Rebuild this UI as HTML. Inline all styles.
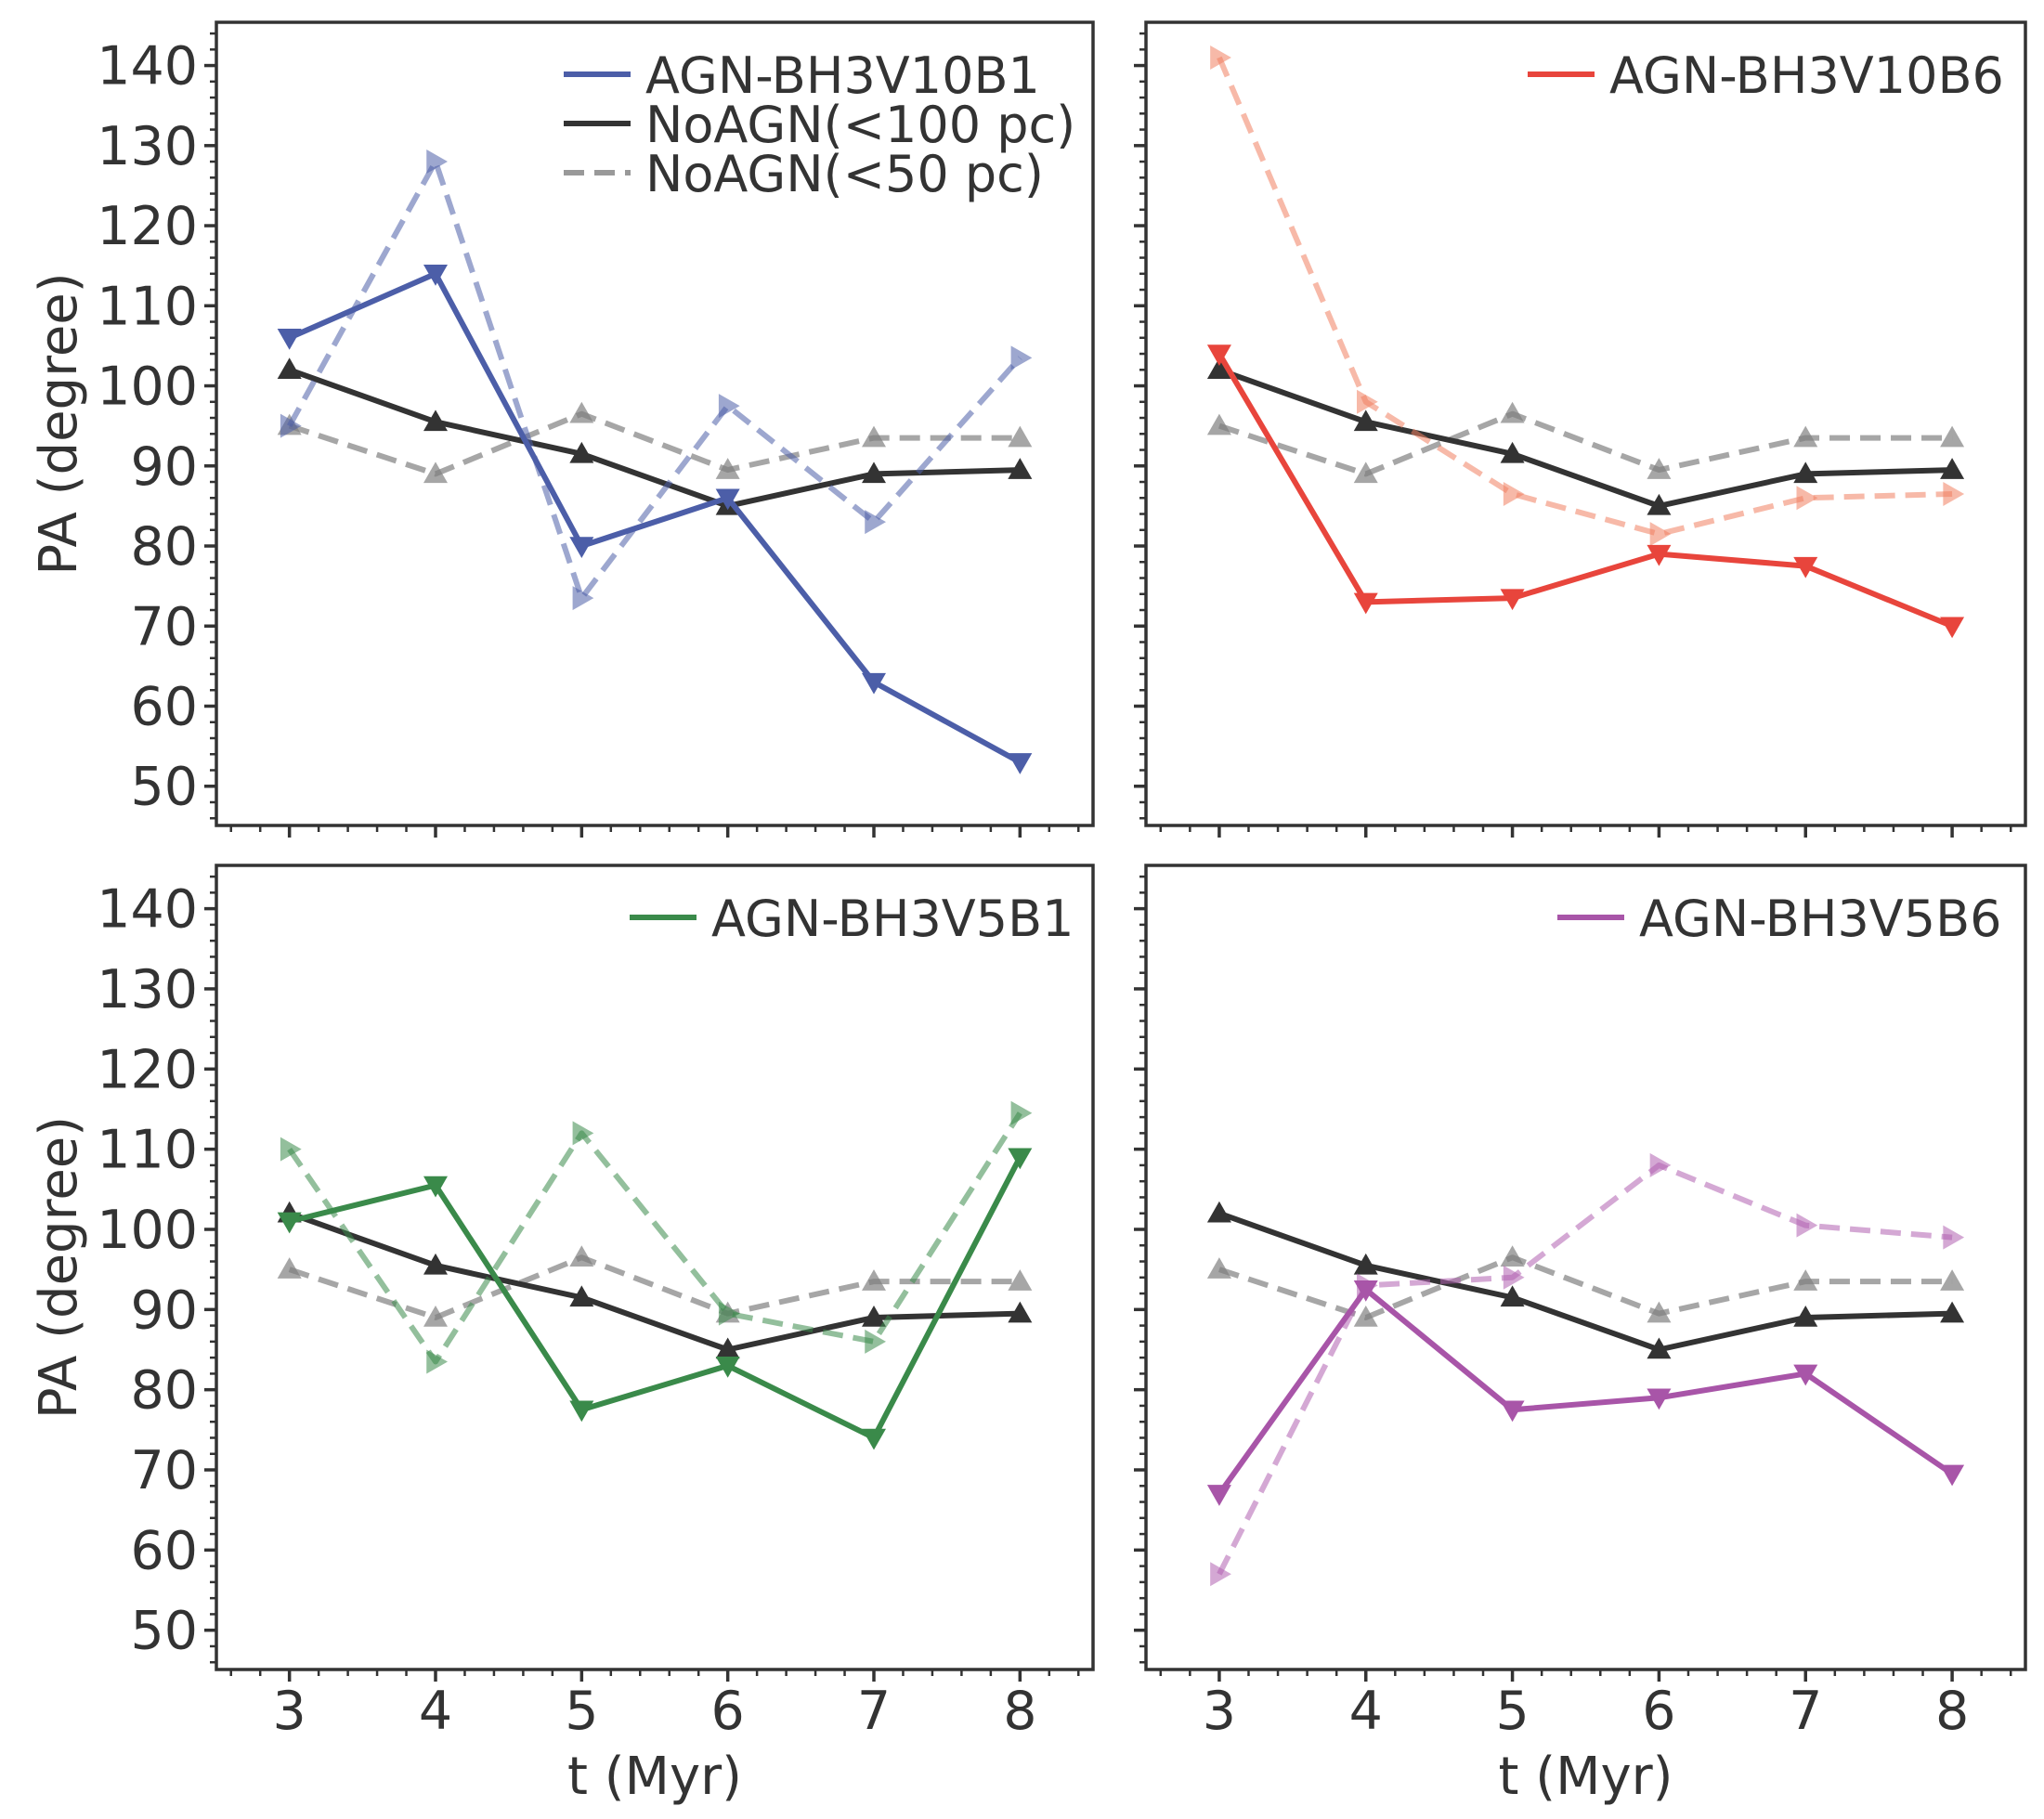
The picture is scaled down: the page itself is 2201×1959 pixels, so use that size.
<!DOCTYPE html>
<html><head><meta charset="utf-8"><style>
body{margin:0;background:#fff}
svg{display:block;font-family:"DejaVu Sans","Liberation Sans",sans-serif}
</style></head><body>
<svg id="chart" width="2201" height="1959" viewBox="0 0 2201 1959" xmlns="http://www.w3.org/2000/svg"></svg>
<script>
const times = [3,4,5,6,7,8];
const yTicks = [50,60,70,80,90,100,110,120,130,140];
const xTicks = [3,4,5,6,7,8];
const noagn100 = [102,95.5,91.5,85,89,89.5];
const noagn50 = [95,89,96.5,89.5,93.5,93.5];
const b1Solid = [106,114,80,86,63,53];
const b1Dash = [95,128,73.5,97.5,83,103.5];
const b6Solid = [104,73,73.5,79,77.5,70];
const b6Dash = [141,98,86.5,81.5,86,86.5];
const v5b1Solid = [101,105.5,77.5,83,74,109];
const v5b1Dash = [110,83.5,112,89.5,86,114.5];
const v5b6Solid = [67,92.5,77.5,79,82,69.5];
const v5b6Dash = [57,93,94,108,100.5,99];
const labels = ["AGN-BH3V10B1","AGN-BH3V10B6","AGN-BH3V5B1","AGN-BH3V5B6"];

const svg=document.getElementById('chart');
const NS="http://www.w3.org/2000/svg";
function mk(tag,attrs,parent){const e=document.createElementNS(NS,tag);for(const k in attrs)e.setAttribute(k,attrs[k]);(parent||svg).appendChild(e);return e;}
const panels=[
 {x0:233,x1:1177,y0:24,y1:889,col:"#4c5ea8",solid:b1Solid,dash:b1Dash,label:labels[0],ylab:true,xlab:false},
 {x0:1234,x1:2181,y0:24,y1:889,col:"#e8453c",dcol:"#f08060",solid:b6Solid,dash:b6Dash,label:labels[1],ylab:false,xlab:false},
 {x0:233,x1:1177,y0:932,y1:1798,col:"#3a8a4a",solid:v5b1Solid,dash:v5b1Dash,label:labels[2],ylab:true,xlab:true},
 {x0:1234,x1:2181,y0:932,y1:1798,col:"#a855a8",dcol:"#b060b0",solid:v5b6Solid,dash:v5b6Dash,label:labels[3],ylab:false,xlab:true}
];
function tri(g,cx,cy,dir,fill,op){
 const s=13;let pts;
 if(dir==='up')pts=[[cx,cy-s],[cx-s,cy+s*0.75],[cx+s,cy+s*0.75]];
 else if(dir==='down')pts=[[cx,cy+s],[cx-s,cy-s*0.75],[cx+s,cy-s*0.75]];
 else pts=[[cx+s,cy],[cx-s*0.75,cy-s],[cx-s*0.75,cy+s]];
 const p=mk('polygon',{points:pts.map(q=>q.join(',')).join(' '),fill:fill,'fill-opacity':op},g);
 
 
}
panels.forEach((P,pi)=>{
 const g=mk('g',{});
 
 
 const xs=v=>P.x0+(v-2.5)/6*(P.x1-P.x0);
 const ys=v=>P.y1-(v-45.1)/(145.4-45.1)*(P.y1-P.y0);
 for(let v=46;v<=145;v+=2){const y=ys(v);mk('line',{x1:P.x0-7,x2:P.x0,y1:y,y2:y,stroke:'#333','stroke-width':2.5},g);}
 for(let i=13;i<=42;i++){const x=xs(i/5);if(x<P.x0-1||x>P.x1+1)continue;mk('line',{x1:x,x2:x,y1:P.y1,y2:P.y1+7,stroke:'#333','stroke-width':2.5},g);}
 yTicks.forEach(v=>{const y=ys(v);mk('line',{x1:P.x0-13,x2:P.x0,y1:y,y2:y,stroke:'#333','stroke-width':3.5},g);
  if(P.ylab){const t=mk('text',{x:P.x0-20,y:y+20,'text-anchor':'end','font-size':57,fill:'#333'},g);t.textContent=v;}});
 xTicks.forEach(v=>{const x=xs(v);mk('line',{x1:x,x2:x,y1:P.y1,y2:P.y1+13,stroke:'#333','stroke-width':3.5},g);
  if(P.xlab){const t=mk('text',{x:x,y:P.y1+64,'text-anchor':'middle','font-size':57,fill:'#333'},g);t.textContent=v;}});
 function series(vals,color,dash,op,dir,name){
  const pts=times.map((t,i)=>xs(t)+','+ys(vals[i])).join(' ');
  const l=mk('polyline',{points:pts,fill:'none',stroke:color,'stroke-width':6,'stroke-opacity':op,'stroke-dasharray':dash?'22,11':'none','stroke-linejoin':'round'},g);
  
  
  times.forEach((t,i)=>tri(g,xs(t),ys(vals[i]),dir,color,op));
 }
 series(noagn50,'#808080',true,0.7,'up','noagn-50pc-line');
 series(noagn100,'#333333',false,1,'up','noagn-100pc-line');
 series(P.dash,P.dcol||P.col,true,0.55,'right','agn-dashed-line');
 series(P.solid,P.col,false,1,'down','agn-solid-line');
 const fr=mk('rect',{x:P.x0,y:P.y0,width:P.x1-P.x0,height:P.y1-P.y0,fill:'none',stroke:'#333','stroke-width':3.5},g);
 
 const ty=P.y0+56;
 let entries=[[P.label,P.col,false]];
 if(pi===0)entries.push(["NoAGN(<100 pc)","#333",false],["NoAGN(<50 pc)","#999",true]);
 entries.forEach((e,k)=>{
  const y=ty+k*53;
  const lg=mk('g',{},g);
  
  
  const x0=pi===0?607:(pi===1?1645:(pi===2?678:1677));
  mk('line',{x1:x0,x2:x0+72,y1:y,y2:y,stroke:e[1],'stroke-width':6,'stroke-dasharray':e[2]?'22,11':'none'},lg);
  const t=mk('text',{x:x0+88,y:y+20,'font-size':54,fill:'#333'},lg);t.textContent=e[0];
 });
 if(P.ylab){const cy=(P.y0+P.y1)/2;const t=mk('text',{x:0,y:0,transform:`translate(82,${cy}) rotate(-90)`,'text-anchor':'middle','font-size':56,fill:'#333'},g);t.textContent='PA (degree)';}
 if(P.xlab){const t=mk('text',{x:(P.x0+P.x1)/2,y:1932,'text-anchor':'middle','font-size':56,fill:'#333'},g);t.textContent='t (Myr)';}
});
</script>
</body></html>
